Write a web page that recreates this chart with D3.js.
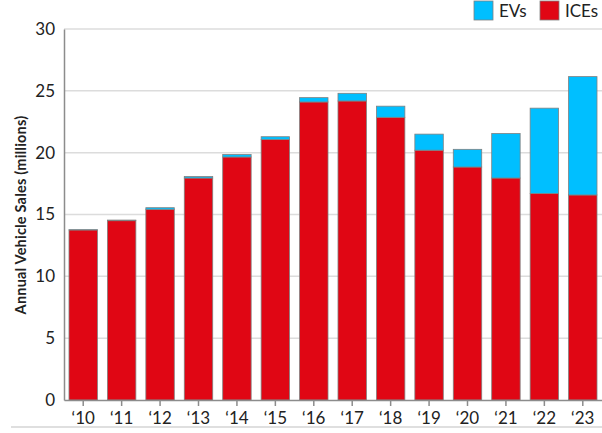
<!DOCTYPE html>
<html>
<head>
<meta charset="utf-8">
<script src="https://cdn.jsdelivr.net/npm/d3@7"></script>
<style>
  html, body { margin: 0; padding: 0; background: #fff; }
  svg { display: block; font-family: "Lato", "Open Sans", sans-serif; }
</style>
</head>
<body>
<svg id="chart" width="602" height="433"></svg>
<script>
// Annual vehicle sales, millions of units
const years = ["\u201810", "\u201811", "\u201812", "\u201813", "\u201814", "\u201815", "\u201816", "\u201817", "\u201818", "\u201819", "\u201820", "\u201821", "\u201822", "\u201823"];
const iceSales = [13.75, 14.5, 15.42, 17.95, 19.65, 21.07, 24.1, 24.18, 22.86, 20.2, 18.84, 17.95, 16.7, 16.58];
const evSales  = [0.02, 0.05, 0.13, 0.12, 0.2, 0.22, 0.35, 0.62, 0.9, 1.3, 1.43, 3.6, 6.9, 9.57];
const yTicks = [0, 5, 10, 15, 20, 25, 30];
const seriesKeys = ["ICEs", "EVs"];
const seriesColors = { ICEs: "#e00614", EVs: "#00bfff" };
const legendOrder = ["EVs", "ICEs"];

const svg = d3.select("#chart");
const margin = { left: 64, right: 602, top: 29, bottom: 400 };

const rows = years.map((y, i) => ({ year: y, ICEs: iceSales[i], EVs: evSales[i] }));
const stacked = d3.stack().keys(seriesKeys)(rows);

const x = d3.scaleBand().domain(years).range([margin.left, margin.right]).paddingInner(0.26).paddingOuter(0.13);
const y = d3.scaleLinear().domain([0, 30]).range([margin.bottom, margin.top]);

// bottom rule
svg.append("line")
  .attr("x1", 11).attr("x2", 602).attr("y1", 427).attr("y2", 427)
  .attr("stroke", "#d4d4d4").attr("stroke-width", 1.5);

// horizontal gridlines
svg.append("g").selectAll("line").data(yTicks.filter(d => d > 0)).join("line")
  .attr("x1", margin.left).attr("x2", 602)
  .attr("y1", d => y(d)).attr("y2", d => y(d))
  .attr("stroke", "#dcdcdc").attr("stroke-width", 1.5);

// stacked bars
svg.append("g").selectAll("g").data(stacked).join("g")
  .attr("fill", d => seriesColors[d.key])
  .selectAll("rect").data(d => d).join("rect")
  .attr("x", d => x(d.data.year))
  .attr("width", x.bandwidth())
  .attr("y", d => y(d[1]))
  .attr("height", d => Math.max(0, y(d[0]) - y(d[1])))
  .attr("stroke", "#808080").attr("stroke-width", 0.8);

// y axis
const yAxis = svg.append("g").attr("transform", `translate(${margin.left},0)`)
  .call(d3.axisLeft(y).tickValues(yTicks).tickSize(0).tickPadding(9));
yAxis.select(".domain").attr("stroke", "#8c8c8c").attr("stroke-width", 1.5);
yAxis.selectAll("text").attr("font-size", 17).attr("fill", "#222").attr("font-family", "Lato, sans-serif");

// x axis
const xAxis = svg.append("g").attr("transform", `translate(0,${margin.bottom})`)
  .call(d3.axisBottom(x).tickSize(6).tickPadding(6).tickSizeOuter(0));
xAxis.select(".domain").attr("stroke", "#8c8c8c").attr("stroke-width", 1.5);
xAxis.selectAll(".tick line").attr("stroke", "#8c8c8c").attr("stroke-width", 1.5);
xAxis.selectAll("text").attr("font-size", 17).attr("fill", "#222").attr("font-family", "Lato, sans-serif");

// y axis title
svg.append("text")
  .attr("transform", "translate(26,215) rotate(-90)")
  .attr("text-anchor", "middle")
  .attr("font-size", 14.5).attr("font-weight", "bold").attr("fill", "#222")
  .attr("letter-spacing", 0.2)
  .text("Annual Vehicle Sales (millions)");

// legend
const legendX = { EVs: 474, ICEs: 540 };
const legend = svg.append("g").selectAll("g").data(legendOrder).join("g")
  .attr("transform", d => `translate(${legendX[d]},1)`);
legend.append("rect")
  .attr("width", 19).attr("height", 19)
  .attr("fill", d => seriesColors[d]).attr("stroke", "#808080").attr("stroke-width", 0.8);
legend.append("text")
  .attr("x", 25).attr("y", 16)
  .attr("font-size", 17).attr("fill", "#222")
  .text(d => d);
</script>
</body>
</html>
